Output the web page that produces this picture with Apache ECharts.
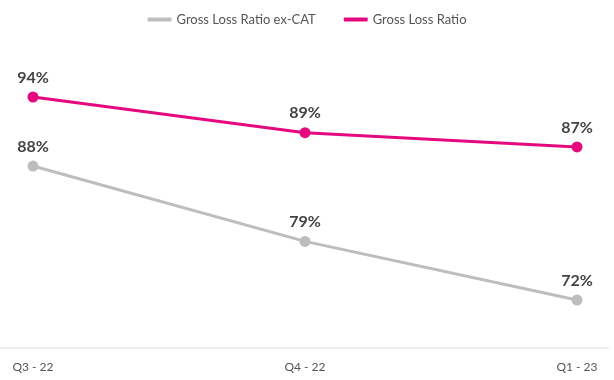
<!DOCTYPE html>
<html><head><meta charset="utf-8">
<script src="https://cdn.jsdelivr.net/npm/echarts@6/dist/echarts.min.js"></script>
<style>html,body{margin:0;padding:0;background:#fff}#c{width:614px;height:380px}</style>
</head><body><div id="c"></div>
<script>
const categories = ['Q3 - 22', 'Q4 - 22', 'Q1 - 23'];
const exCatValues = [88, 79, 72];
const grossValues = [94, 89, 87];
const seriesNames = ['Gross Loss Ratio ex-CAT', 'Gross Loss Ratio'];

const chart = echarts.init(document.getElementById('c'));
const labelStyle = {show: true, position: 'top', distance: 6, formatter: '{c}%', color: '#444', fontSize: 16, fontWeight: 'bold', fontFamily: 'Lato'};
chart.setOption({
  animation: false,
  textStyle: {fontFamily: 'Lato'},
  legend: {
    top: 8, left: 'center', itemGap: 28, itemWidth: 24, itemHeight: 4, icon: 'roundRect',
    textStyle: {color: '#555', fontSize: 13, fontFamily: 'Lato'},
    data: [seriesNames[0], seriesNames[1]]
  },
  grid: [
    {left: 33, right: 37, top: 60, bottom: 32},
    {left: 0, right: 6, top: 60, bottom: 32}
  ],
  xAxis: [
    {type: 'category', gridIndex: 0, data: categories, boundaryGap: false,
     axisLine: {show: false}, axisTick: {show: false},
     axisLabel: {color: '#555', fontSize: 12, margin: 13, fontFamily: 'Lato'}},
    {type: 'value', gridIndex: 1, min: 0, max: 1,
     axisLine: {show: true, onZero: false, lineStyle: {color: '#eeeeee', width: 2}},
     axisTick: {show: false}, axisLabel: {show: false}, splitLine: {show: false}}
  ],
  yAxis: [
    {type: 'value', gridIndex: 0, min: 58.85, max: 99.18, show: false},
    {type: 'value', gridIndex: 0, min: 66.27, max: 100.66, show: false},
    {type: 'value', gridIndex: 1, show: false}
  ],
  series: [
    {name: seriesNames[0], type: 'line', xAxisIndex: 0, yAxisIndex: 1, data: exCatValues,
     color: '#BDBDBD', lineStyle: {width: 3}, symbol: 'circle', symbolSize: 11, label: labelStyle},
    {name: seriesNames[1], type: 'line', xAxisIndex: 0, yAxisIndex: 0, data: grossValues,
     color: '#E5087E', lineStyle: {width: 3}, symbol: 'circle', symbolSize: 11, label: labelStyle}
  ]
});
</script></body></html>
